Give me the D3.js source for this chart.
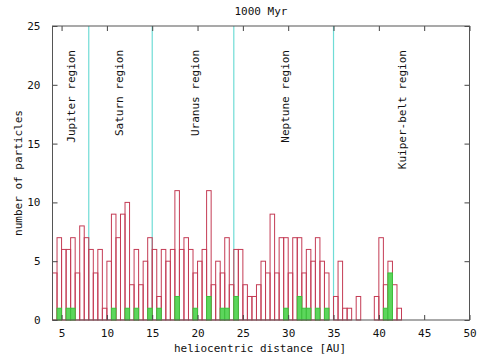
<!DOCTYPE html>
<html lang="en">
<head>
  <meta charset="UTF-8">
  <title>1000 Myr</title>
  <style>
    body { margin: 0; background: #fff; }
    svg { display: block; }
    text { font-family: "DejaVu Sans Mono", monospace; font-size: 11px; fill: #111; }
    .tick line { stroke: #444; }
  </style>
</head>
<body>
  <div id="chart"></div>

  <script src="https://d3js.org/d3.v7.min.js"></script>
  <script>
    // Data: left edge of every 0.5 AU bin
    const binStarts = [
      4.0, 4.5, 5.0, 5.5, 6.0, 6.5, 7.0, 7.5, 8.0, 8.5,
      9.0, 9.5, 10.0, 10.5, 11.0, 11.5, 12.0, 12.5, 13.0, 13.5,
      14.0, 14.5, 15.0, 15.5, 16.0, 16.5, 17.0, 17.5, 18.0, 18.5,
      19.0, 19.5, 20.0, 20.5, 21.0, 21.5, 22.0, 22.5, 23.0, 23.5,
      24.0, 24.5, 25.0, 25.5, 26.0, 26.5, 27.0, 27.5, 28.0, 28.5,
      29.0, 29.5, 30.0, 30.5, 31.0, 31.5, 32.0, 32.5, 33.0, 33.5,
      34.0, 34.5, 35.0, 35.5, 36.0, 36.5, 37.0, 37.5, 38.0, 38.5,
      39.0, 39.5, 40.0, 40.5, 41.0, 41.5, 42.0
    ];
    const binWidth = 0.5;

    // all particles (red outline)
    const allCounts = [
      4, 7, 6, 6, 7, 4, 8, 7, 6, 4,
      6, 1, 5, 9, 7, 9, 10, 3, 6, 3,
      5, 7, 6, 2, 6, 5, 6, 11, 6, 7,
      6, 4, 5, 6, 11, 3, 5, 4, 7, 3,
      6, 6, 3, 2, 2, 3, 5, 4, 9, 4,
      7, 7, 4, 7, 7, 4, 6, 5, 7, 5,
      4, 0, 2, 5, 1, 1, 0, 2, 0, 0,
      0, 2, 7, 3, 5, 3, 1
    ];

    // subset (green filled)
    const subsetCounts = [
      0, 1, 0, 1, 1, 0, 0, 0, 0, 0,
      0, 0, 0, 1, 0, 0, 1, 0, 1, 0,
      0, 1, 0, 1, 0, 0, 0, 2, 0, 0,
      0, 1, 0, 0, 2, 0, 0, 1, 1, 0,
      2, 0, 0, 0, 0, 0, 0, 0, 0, 0,
      0, 1, 0, 0, 2, 1, 1, 0, 1, 0,
      1, 0, 0, 0, 0, 0, 0, 0, 0, 0,
      0, 0, 0, 1, 4, 0, 0
    ];

    const regionBounds = [8, 15, 24, 35];
    const regionLabels = [
      { name: "Jupiter region", at: 6.1 },
      { name: "Saturn region", at: 11.4 },
      { name: "Uranus region", at: 19.7 },
      { name: "Neptune region", at: 29.7 },
      { name: "Kuiper-belt region", at: 42.6 }
    ];

    const xTicks = [5, 10, 15, 20, 25, 30, 35, 40, 45, 50];
    const yTicks = [0, 5, 10, 15, 20, 25];

    // Layout
    const W = 481, H = 356;
    const plot = { left: 52.5, right: 469.5, top: 26, bottom: 320 };

    const svg = d3.select("#chart").append("svg")
      .attr("width", W)
      .attr("height", H);

    const x = d3.scaleLinear().domain([4, 50]).range([plot.left, plot.right]);
    const y = d3.scaleLinear().domain([0, 25]).range([plot.bottom, plot.top]);

    const bins = binStarts.map((b, i) => ({ x0: b, all: allCounts[i], sub: subsetCounts[i] }));

    // region separators
    svg.append("g").selectAll("line")
      .data(regionBounds)
      .enter().append("line")
      .attr("x1", d => x(d)).attr("x2", d => x(d))
      .attr("y1", plot.top).attr("y2", plot.bottom)
      .attr("stroke", "#6fdcd6")
      .attr("stroke-width", 1.2);

    // red outline boxes
    svg.append("g").selectAll("rect")
      .data(bins.filter(d => d.all > 0))
      .enter().append("rect")
      .attr("x", d => x(d.x0))
      .attr("y", d => y(d.all))
      .attr("width", d => x(d.x0 + binWidth) - x(d.x0))
      .attr("height", d => y(0) - y(d.all))
      .attr("fill", "none")
      .attr("stroke", "#c43c55")
      .attr("stroke-width", 1);

    // green filled boxes
    svg.append("g").selectAll("rect")
      .data(bins.filter(d => d.sub > 0))
      .enter().append("rect")
      .attr("x", d => x(d.x0))
      .attr("y", d => y(d.sub))
      .attr("width", d => x(d.x0 + binWidth) - x(d.x0))
      .attr("height", d => y(0) - y(d.sub))
      .attr("fill", "#5cd65c")
      .attr("stroke", "#3cc03c")
      .attr("stroke-width", 1);

    // region labels
    svg.append("g").selectAll("text")
      .data(regionLabels)
      .enter().append("text")
      .attr("transform", d => `translate(${x(d.at)},50) rotate(-90)`)
      .attr("dy", "0.35em")
      .attr("text-anchor", "end")
      .text(d => d.name);

    // axes with inward ticks, mirrored
    const ax = (g) => g.select(".domain").remove();
    svg.append("g")
      .attr("transform", `translate(0,${plot.bottom})`)
      .call(d3.axisBottom(x).tickValues(xTicks).tickSize(-5).tickPadding(9).tickFormat(d3.format("d")))
      .call(ax);
    svg.append("g")
      .attr("transform", `translate(0,${plot.top})`)
      .call(d3.axisTop(x).tickValues(xTicks).tickSize(-5).tickFormat(""))
      .call(ax);
    svg.append("g")
      .attr("transform", `translate(${plot.left},0)`)
      .call(d3.axisLeft(y).tickValues(yTicks).tickSize(-5).tickPadding(12).tickFormat(d3.format("d")))
      .call(ax);
    svg.append("g")
      .attr("transform", `translate(${plot.right},0)`)
      .call(d3.axisRight(y).tickValues(yTicks).tickSize(-5).tickFormat(""))
      .call(ax);

    svg.selectAll(".tick text")
      .style("font-family", "'DejaVu Sans Mono', monospace")
      .style("font-size", "11px")
      .attr("fill", "#111");

    // frame
    svg.append("rect")
      .attr("x", plot.left).attr("y", plot.top)
      .attr("width", plot.right - plot.left)
      .attr("height", plot.bottom - plot.top)
      .attr("fill", "none")
      .attr("stroke", "#555")
      .attr("stroke-width", 1);

    // titles
    svg.append("text")
      .attr("x", 261).attr("y", 14.5)
      .attr("text-anchor", "middle")
      .text("1000 Myr");

    svg.append("text")
      .attr("x", 260).attr("y", 351.5)
      .attr("text-anchor", "middle")
      .text("heliocentric distance [AU]");

    svg.append("text")
      .attr("transform", "translate(18,173) rotate(-90)")
      .attr("dy", "0.35em")
      .attr("text-anchor", "middle")
      .text("number of particles");
  </script>
</body>
</html>
